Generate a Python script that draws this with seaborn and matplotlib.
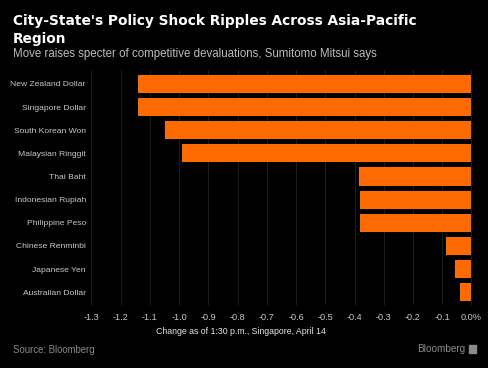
import matplotlib
matplotlib.use("Agg")
import matplotlib.pyplot as plt
import matplotlib.patches as mpatches
import seaborn as sns
import pandas as pd

# ==============================
# DATA
# ==============================
currencies = [
    "New Zealand Dollar", "Singapore Dollar", "South Korean Won",
    "Malaysian Ringgit", "Thai Baht", "Indonesian Rupiah",
    "Philippine Peso", "Chinese Renminbi", "Japanese Yen", "Australian Dollar",
]
change_pct = [-1.14, -1.14, -1.05, -0.99, -0.385, -0.38, -0.38, -0.087, -0.055, -0.04]
tick_values = [-1.3, -1.2, -1.1, -1.0, -0.9, -0.8, -0.7, -0.6, -0.5, -0.4, -0.3, -0.2, -0.1, 0.0]
tick_labels = ["-1.3", "-1.2", "-1.1", "-1.0", "-0.9", "-0.8", "-0.7", "-0.6",
               "-0.5", "-0.4", "-0.3", "-0.2", "-0.1", "0.0%"]

df = pd.DataFrame({"currency": currencies, "change": change_pct})

BG = "#000000"
ORANGE = "#ff6a00"
LABEL = "#c8c8c8"
GRID = "#1c1c1c"

sns.set_theme(style="dark")
plt.rcParams["font.family"] = ["Liberation Sans", "DejaVu Sans"]

fig = plt.figure(figsize=(4.88, 3.68), dpi=100, facecolor=BG)
ax = fig.add_axes([90 / 488, 63 / 368, 382 / 488, 235 / 368])
ax.set_facecolor(BG)

sns.barplot(data=df, x="change", y="currency", orient="h", color=ORANGE,
            width=0.78, saturation=1, linewidth=0, edgecolor=ORANGE,
            ax=ax, zorder=3)

ax.set_xlim(-1.305, 0.002)
ax.set_ylim(9.55, -0.6)
ax.set_xticks(tick_values)
ax.set_xticklabels(tick_labels)
ax.grid(axis="x", color=GRID, linewidth=0.8, zorder=0)
ax.grid(axis="y", visible=False)
for s in ax.spines.values():
    s.set_visible(False)
ax.tick_params(axis="x", length=0, colors=LABEL, labelsize=6.6, pad=6)
ax.tick_params(axis="y", length=0, colors=LABEL, labelsize=6.1, pad=3)
ax.set_ylabel("")
ax.set_xlabel("")

# x-axis caption, centred on the figure like the original
fig.text(241 / 488, 1 - 332 / 368, "Change as of 1:30 p.m., Singapore, April 14",
         color="#e6e6e6", fontsize=6.3, ha="center", va="center")

# Titles and footer
title_font = ["DejaVu Sans"]
fig.text(13 / 488, 1 - 21.5 / 368, "City-State's Policy Shock Ripples Across Asia-Pacific",
         color="white", fontsize=9.9, fontweight="bold", va="center", family=title_font)
fig.text(13 / 488, 1 - 39 / 368, "Region", color="white", fontsize=9.9,
         fontweight="bold", va="center", family=title_font)
fig.text(13 / 488, 1 - 54 / 368,
         "Move raises specter of competitive devaluations, Sumitomo Mitsui says",
         color="#bdbdbd", fontsize=8.3, va="center")
fig.text(13 / 488, 1 - 350 / 368, "Source: Bloomberg", color="#8a8a8a",
         fontsize=6.9, va="center")
fig.text(465 / 488, 1 - 349 / 368, "Bloomberg", color="#8a8a8a",
         fontsize=7.2, va="center", ha="right")
fig.patches.append(mpatches.Rectangle((469 / 488, 1 - 353 / 368), 7 / 488, 8 / 368,
                                      transform=fig.transFigure, color="#8a8a8a"))

fig.savefig("out.png", dpi=100, facecolor=BG)
